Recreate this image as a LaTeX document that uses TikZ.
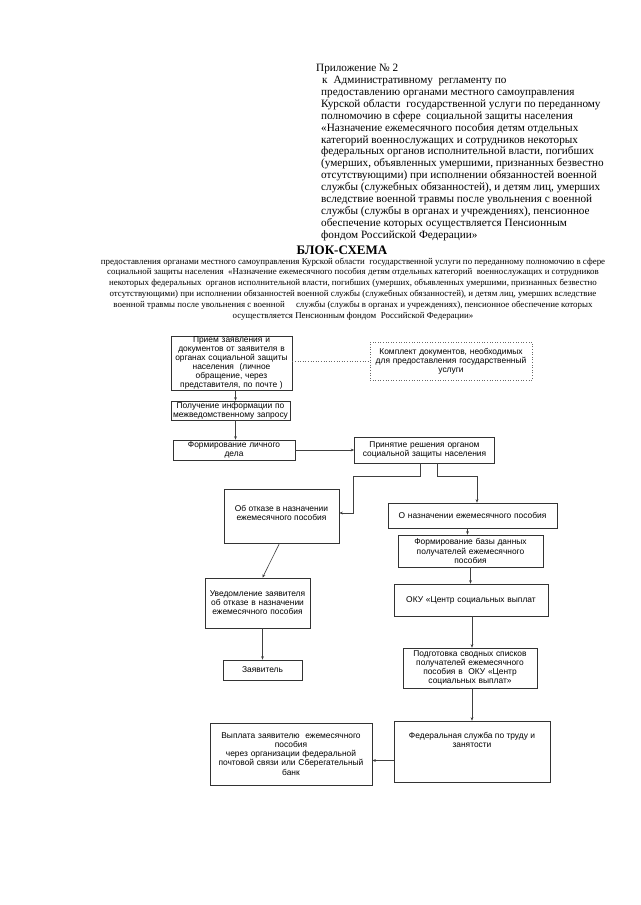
\documentclass[tikz,border=0pt]{standalone}
\usepackage{fontspec}
\setmainfont{Liberation Serif}
\newfontfamily\chartfont{Liberation Sans}
\usetikzlibrary{arrows.meta,calc}
\begin{document}
\begin{tikzpicture}[x=1pt,y=-1pt,
  box/.style={draw=black!80, line width=0.6pt, align=center, inner sep=0.5pt,
    font=\chartfont\fontsize{8.4}{9.1}\selectfont},
  txt/.style={align=center, inner sep=0pt, font=\chartfont\fontsize{8.4}{9.1}\selectfont},
  dotbox/.style={box, draw=black!60, dotted},
  conn/.style={draw=black!75, line width=0.6pt},
  arr/.style={conn, -{Stealth[length=3.5pt,width=2.8pt]}},
  dotline/.style={draw=black!60, line width=0.6pt, dotted}]
\useasboundingbox (0,0) rectangle (640,905);
\fill[white] (0,0) rectangle (640,905);

% header
\node[anchor=north west, align=left, inner sep=0pt,
  font=\fontsize{11.2}{11.9}\selectfont] (head) at (316,64) {%
Приложение № 2\\
\hspace*{6pt}к\hspace{6pt}Административному\ \ регламенту по\\
\hspace*{5pt}предоставлению органами местного самоуправления\\
\hspace*{5pt}Курской области\ \ государственной услуги по переданному\\
\hspace*{5pt}полномочию в сфере\ \ социальной защиты населения\\
\hspace*{5pt}«Назначение ежемесячного пособия детям отдельных\\
\hspace*{5pt}категорий военнослужащих и сотрудников некоторых\\
\hspace*{5pt}федеральных органов исполнительной власти, погибших\\
\hspace*{5pt}(умерших, объявленных умершими, признанных безвестно\\
\hspace*{5pt}отсутствующими) при исполнении обязанностей военной\\
\hspace*{5pt}службы (служебных обязанностей), и детям лиц, умерших\\
\hspace*{5pt}вследствие военной травмы после увольнения с военной\\
\hspace*{5pt}службы (службы в органах и учреждениях), пенсионное\\
\hspace*{5pt}обеспечение которых осуществляется Пенсионным\\
\hspace*{5pt}фондом Российской Федерации»};

\node[anchor=base, inner sep=0pt, font=\bfseries\fontsize{13}{14}\selectfont] (title) at (342,254.5) {БЛОК-СХЕМА};

\node[align=center, inner sep=0pt, anchor=north,
  font=\fontsize{8.9}{10.9}\selectfont] (sub) at (353,257.5) {%
предоставления органами местного самоуправления Курской области\ \ государственной услуги по переданному полномочию в сфере\\
социальной защиты населения\ \ «Назначение ежемесячного пособия детям отдельных категорий\ \ военнослужащих и сотрудников\\
некоторых федеральных\ \ органов исполнительной власти, погибших (умерших, объявленных умершими, признанных безвестно\\
отсутствующими) при исполнении обязанностей военной службы (служебных обязанностей), и детям лиц, умерших вследствие\\
военной травмы после увольнения с военной\ \ \ \ \ службы (службы в органах и учреждениях), пенсионное обеспечение которых\\
осуществляется Пенсионным фондом\ \ Российской Федерации»};

% boxes
\node[box, minimum width=121pt, minimum height=53pt, text width=119pt] (b1) at (231.5,363)
 {Прием заявления и\\документов от заявителя в\\органах социальной защиты\\населения\ \ (личное\\обращение, через\\представителя, по почте )};
\node[dotbox, minimum width=162pt, minimum height=38pt, text width=161pt] (kom) at (451,361)
 {Комплект документов, необходимых\\для предоставления государственный\\услуги};
\node[box, minimum width=119pt, minimum height=19pt, text width=118pt] (b2) at (230.5,410.5)
 {Получение информации по\\межведомственному запросу};
\node[box, minimum width=122pt, minimum height=20pt, text width=120pt] (b3) at (234,450)
 {Формирование личного\\дела};
\node[box, minimum width=140pt, minimum height=26pt, text width=138pt] (b4) at (424.5,450)
 {Принятие решения органом\\социальной защиты населения};
\node[box, minimum width=115pt, minimum height=54pt] (b5) at (281.5,516) {};
\node[txt] (b5t) at (281.5,513) {Об отказе в назначении\\ежемесячного пособия};
\node[box, minimum width=169pt, minimum height=25pt, text width=167pt] (b6) at (472.5,515.5)
 {О назначении ежемесячного пособия};
\node[box, minimum width=145pt, minimum height=32pt, text width=143pt] (b7) at (470.5,551)
 {Формирование базы данных\\получателей ежемесячного\\пособия};
\node[box, minimum width=154pt, minimum height=32pt, text width=152pt] (b8) at (471,600)
 {ОКУ «Центр социальных выплат};
\node[box, minimum width=105pt, minimum height=50pt, text width=104pt] (b12) at (257.5,603)
 {Уведомление заявителя\\об отказе в назначении\\ежемесячного пособия};
\node[box, minimum width=79pt, minimum height=20pt, text width=77pt] (b13) at (262.5,670)
 {Заявитель};
\node[box, minimum width=134pt, minimum height=40pt, text width=132pt] (b9) at (470,668)
 {Подготовка сводных списков\\получателей ежемесячного\\пособия в\ \ ОКУ «Центр\\социальных выплат»};
\node[box, minimum width=156pt, minimum height=61pt] (b10) at (472,751.5) {};
\node[txt] (b10t) at (472,740) {Федеральная служба по труду и\\занятости};
\node[box, minimum width=162pt, minimum height=62pt, text width=161pt] (b11) at (291,754)
 {Выплата заявителю\ \ ежемесячного\\пособия\\через организации федеральной\\почтовой связи или Сберегательный\\банк};

% connectors
\draw[dotline] (b1.east |- kom.west) -- (kom.west);
\draw[arr] ([xshift=4pt]b1.south) -- ([xshift=4pt]b1.south |- b2.north);
\draw[arr] ([xshift=5pt]b2.south) -- ([xshift=5pt]b2.south |- b3.north);
\draw[arr] (b3.east) -- (b3.east -| b4.west);
\coordinate (j1) at (353,476);
\coordinate (j2) at (477,476);
\draw[arr] ([xshift=-4pt]b4.south) |- (j1) |- (b5.east |- b5t.east);
\draw[arr] ([xshift=13pt]b4.south) |- (j2) -- (j2 |- b6.north);
\draw[arr] ([xshift=-3pt]b7.north |- b6.south) -- ([xshift=-3pt]b7.north);
\draw[arr] (b7.south) -- (b7.south |- b8.north);
\draw[arr] ([xshift=2pt]b9.north |- b8.south) -- ([xshift=2pt]b9.north);
\draw[arr] ([xshift=2pt]b9.south) -- ([xshift=2pt]b9.south |- b10.north);
\coordinate (p10) at ($(b10.west)+(0,9)$);
\draw[arr] (p10) -- (p10 -| b11.east);
\draw[arr] ([xshift=-2pt]b5.south) -- ([xshift=5pt]b12.north);
\draw[arr] ([xshift=5pt]b12.south) -- ([xshift=5pt]b12.south |- b13.north);
\end{tikzpicture}
\end{document}
